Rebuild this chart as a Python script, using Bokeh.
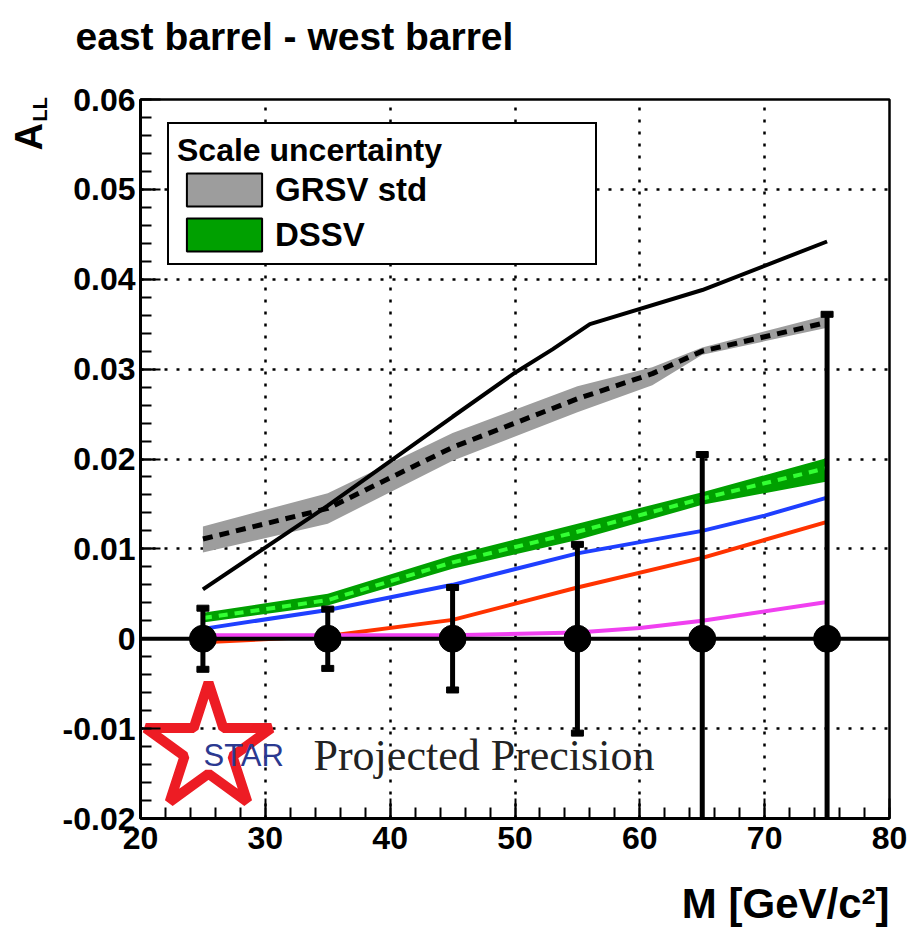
import math

from bokeh.embed import file_html
from bokeh.models import (ColumnDataSource, CustomJSTickFormatter, Label, Legend,
                          LegendItem, Range1d, SingleIntervalTicker, Span)
from bokeh.plotting import figure
from bokeh.resources import INLINE

# ---- projected STAR points (A_LL = 0 with statistical errors) ----
mass_bins = [25, 35, 45, 55, 65, 75]
proj_all = [0, 0, 0, 0, 0, 0]
proj_err = [0.0034, 0.0033, 0.0057, 0.0105, 0.0205, 0.0361]

# ---- GRSV max (solid black) ----
max_x = [25, 35, 45, 50, 53, 56, 65, 75]
max_all = [0.0055, 0.0148, 0.0247, 0.0296, 0.0322, 0.0350, 0.0388, 0.0442]

# ---- GRSV std with scale-uncertainty band ----
std_x = [25, 35, 45, 55, 61, 65, 75]
std_all = [0.0111, 0.0145, 0.0213, 0.0267, 0.0295, 0.0320, 0.0352]
std_lo = [0.0096, 0.0128, 0.0198, 0.0252, 0.0282, 0.0316, 0.0346]
std_hi = [0.0125, 0.0162, 0.0229, 0.0281, 0.0302, 0.0324, 0.0360]

# ---- DSSV with scale-uncertainty band ----
dssv_x = [25, 35, 45, 55, 65, 75]
dssv_all = [0.0023, 0.0043, 0.0085, 0.0119, 0.0156, 0.0190]
dssv_lo = [0.0018, 0.0037, 0.0078, 0.0110, 0.0149, 0.0175]
dssv_hi = [0.0029, 0.0050, 0.0093, 0.0128, 0.0163, 0.0201]

# ---- other model curves ----
blue_x = [25, 35, 45, 55, 65, 70, 75]
blue_all = [0.0011, 0.0032, 0.0060, 0.0095, 0.0120, 0.0137, 0.0157]
red_x = [25, 35, 45, 55, 65, 75]
red_all = [-0.0004, 0.0003, 0.0021, 0.0057, 0.0090, 0.0130]
mag_x = [25, 35, 45, 55, 60, 65, 75]
mag_all = [0.0004, 0.0004, 0.0004, 0.0007, 0.0012, 0.0020, 0.0041]

x_ticks_interval = 10
y_ticks_interval = 0.01

X_LO, X_HI = 20, 80
Y_LO, Y_HI = -0.02, 0.06

# frame placement on the canvas (pixels)
W, H = 913, 927
FRAME_L, FRAME_T, FRAME_W, FRAME_H = 140, 99, 749, 719
FRAME_B = FRAME_T + FRAME_H


def at_x(px):
    """canvas pixel column -> data x"""
    return X_LO + (px - FRAME_L) * (X_HI - X_LO) / FRAME_W


def at_y(py):
    """canvas pixel row -> data y"""
    return Y_HI - (py - FRAME_T) * (Y_HI - Y_LO) / FRAME_H


BOLD = "Liberation Sans"

p = figure(frame_width=FRAME_W, frame_height=FRAME_H,
           output_backend="svg", toolbar_location=None,
           x_range=Range1d(X_LO, X_HI), y_range=Range1d(Y_LO, Y_HI),
           min_border_left=FRAME_L, min_border_top=FRAME_T,
           min_border_right=W - FRAME_L - FRAME_W,
           min_border_bottom=H - FRAME_B)
p.background_fill_color = "white"
p.border_fill_color = "white"
p.outline_line_color = "black"
p.outline_line_width = 2.5
p.outline_line_alpha = 1


def text(txt, px, py, size, place, **kw):
    """bold text in a border panel; (px, py) is the bottom-left corner of its box"""
    lab = Label(x=at_x(px), y=at_y(py), text=txt, text_baseline="bottom",
                text_font=BOLD, text_font_style="bold",
                text_font_size=f"{size}px", text_color="black", **kw)
    p.add_layout(lab, place)
    return lab


# plot title, axis titles (A_LL reads bottom-to-top)
text("east barrel - west barrel", 75, 57, 39, "above")
text("A", 49, 150, 38, "above", angle=math.pi / 2)
text("LL", 50, 121, 20, "left", angle=math.pi / 2)
text("M [GeV/c²]", 889, 926, 42, "below", text_align="right")

# axes
p.xaxis.ticker = SingleIntervalTicker(interval=x_ticks_interval, num_minor_ticks=5)
p.yaxis.ticker = SingleIntervalTicker(interval=y_ticks_interval, num_minor_ticks=5)
p.yaxis.formatter = CustomJSTickFormatter(code="return tick == 0 ? '0' : tick.toFixed(2);")
for ax in (p.xaxis, p.yaxis):
    ax.axis_line_width = 3
    ax.major_tick_in = 20
    ax.major_tick_out = 0
    ax.minor_tick_in = 11
    ax.minor_tick_out = 0
    ax.major_tick_line_width = 2
    ax.minor_tick_line_width = 2
    ax.major_label_text_font = BOLD
    ax.major_label_text_font_style = "bold"
    ax.major_label_text_font_size = "32px"
    ax.major_label_text_color = "black"
p.xaxis.major_label_standoff = 8
p.yaxis.major_label_standoff = 5

# dotted grid
for g in (p.xgrid, p.ygrid):
    g.grid_line_color = "black"
    g.grid_line_width = 2.5
    g.grid_line_dash = "3 9"
p.xgrid.ticker = p.xaxis.ticker
p.ygrid.ticker = p.yaxis.ticker

# scale-uncertainty bands
GRAY = "#9d9d9d"
GREEN = "#00a000"
p.varea(x=std_x, y1=std_lo, y2=std_hi, fill_color=GRAY)
p.varea(x=dssv_x, y1=dssv_lo, y2=dssv_hi, fill_color=GREEN)

# model curves
p.line(max_x, max_all, line_color="black", line_width=4)
p.line(std_x, std_all, line_color="black", line_width=5, line_dash="10 7")
p.line(dssv_x, dssv_all, line_color="#33ff33", line_width=4, line_dash="9 7")
p.line(blue_x, blue_all, line_color="#1f3fff", line_width=4)
p.line(red_x, red_all, line_color="#ff3300", line_width=4)
p.line(mag_x, mag_all, line_color="#f040f0", line_width=4)

# zero line
p.add_layout(Span(location=0, dimension="width", line_color="black", line_width=4))

# projected points with error bars
err_src = ColumnDataSource(dict(
    x=mass_bins, y=proj_all,
    lo=[v - e for v, e in zip(proj_all, proj_err)],
    hi=[v + e for v, e in zip(proj_all, proj_err)],
))
p.segment(x0="x", y0="lo", x1="x", y1="hi", source=err_src, line_color="black", line_width=5)
p.rect(x="x", y="hi", width=12, height=6, width_units="screen", height_units="screen",
       source=err_src, color="black")
p.rect(x="x", y="lo", width=12, height=6, width_units="screen", height_units="screen",
       source=err_src, color="black")
p.scatter(x="x", y="y", source=err_src, size=27, color="black")

# legend swatches: zero-size boxes anchored on the curves, so only the legend shows them
sw_gray = p.rect(x=std_x[:1], y=std_all[:1], width=0, height=0, fill_color=GRAY,
                 line_color="black", line_width=2)
sw_green = p.rect(x=dssv_x[:1], y=dssv_all[:1], width=0, height=0, fill_color=GREEN,
                  line_color="black", line_width=2)
legend = Legend(
    items=[LegendItem(label="GRSV std", renderers=[sw_gray]),
           LegendItem(label="DSSV", renderers=[sw_green])],
    title="Scale uncertainty",
    location=(27, FRAME_B - 265),
    orientation="vertical",
    border_line_color="black", border_line_width=2, border_line_alpha=1,
    background_fill_color="white", background_fill_alpha=1,
    padding=8, margin=0, spacing=4,
    glyph_width=94, glyph_height=41, label_height=41,
    label_standoff=4, label_width=312,
    title_standoff=0,
    title_text_font=BOLD, title_text_font_style="bold", title_text_font_size="32px",
    title_text_color="black",
    label_text_font=BOLD, label_text_font_style="bold", label_text_font_size="33px",
    label_text_color="black",
)
p.add_layout(legend)

# STAR logo and caption
p.scatter(x=[at_x(208)], y=[at_y(748)], marker="star", size=132,
          fill_alpha=0, line_color="#ed1c24", line_width=10)
p.add_layout(Label(x=at_x(203), y=at_y(772), text="STAR", text_baseline="bottom",
                   text_font="Liberation Sans", text_font_size="31px", text_color="#2b3990"))
p.add_layout(Label(x=at_x(313), y=at_y(779), text="Projected Precision",
                   text_baseline="bottom", text_font="Liberation Serif",
                   text_font_size="44px", text_color="#222222"))

open("out.html", "w").write(file_html(p, INLINE))
